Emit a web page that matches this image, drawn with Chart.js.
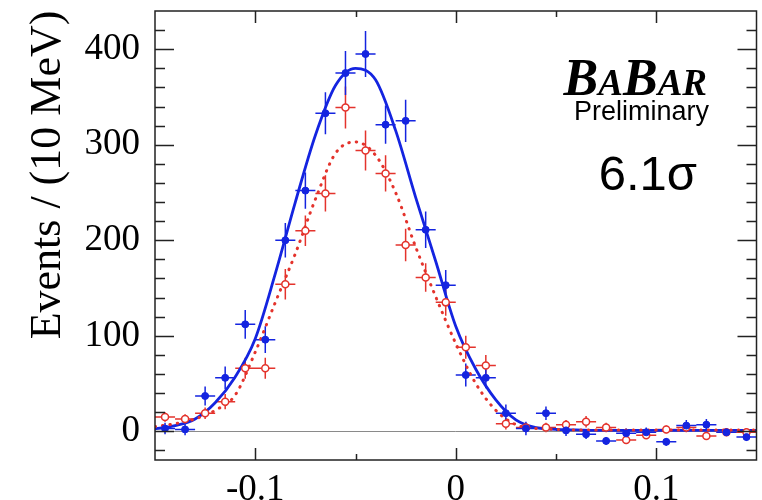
<!DOCTYPE html>
<html>
<head>
<meta charset="utf-8">
<script src="https://cdn.jsdelivr.net/npm/chart.js@4/dist/chart.umd.min.js"></script>
<style>
  html, body { margin: 0; padding: 0; background: #fff; }
  #chart { display: block; }
</style>
</head>
<body>
<canvas id="chart" width="762" height="500"></canvas>
<script>
// bin centres (10 MeV bins)
var binCenters = [-0.145, -0.135, -0.125, -0.115, -0.105, -0.095, -0.085, -0.075, -0.065, -0.055,
                  -0.045, -0.035, -0.025, -0.015, -0.005, 0.005, 0.015, 0.025, 0.035, 0.045,
                  0.055, 0.065, 0.075, 0.085, 0.095, 0.105, 0.115, 0.125, 0.135, 0.145];
var binHalfWidth = 0.005;

// blue (filled) points
var blueCounts = [3, 2, 37, 56, 112, 96, 200, 252, 333, 375,
                  395, 321, 325, 211, 153, 59, 56, 19, 3, 19,
                  1, -3, -10, -2, -1, -11, 6, 7, -1, -6];
var blueErrors = [6, 6, 10, 12, 15, 14, 18, 19, 22, 23,
                  24, 20, 22, 19, 16, 12, 11, 9, 7, 7,
                  6, 5, 4, 5, 5, 4, 6, 6, 4, 4];

// red (open) points
var redCounts = [15, 13, 19, 31, 66, 66, 154, 210, 249, 339,
                 294, 270, 195, 161, 135, 88, 69, 8, 4, 4,
                 7, 10, 4, -9, -4, 2, 4, -5, -1, -1];
var redErrors = [5, 5, 6, 8, 11, 11, 16, 16, 19, 22,
                 21, 19, 17, 15, 14, 12, 11, 6, 5, 5,
                 5, 6, 5, 4, 4, 4, 5, 4, 4, 4];

// fit curves
var curveX = [-0.15, -0.14, -0.13, -0.12, -0.11, -0.10, -0.09, -0.08, -0.07, -0.06,
              -0.05, -0.04, -0.03, -0.02, -0.01, 0.00, 0.01, 0.02, 0.03, 0.04,
              0.05, 0.06, 0.07, 0.08, 0.09, 0.10, 0.11, 0.12, 0.13, 0.14, 0.15];
var blueFit = [2.5, 6, 13, 30, 57, 97, 165, 240, 310, 362,
               380, 368, 315, 245, 178, 110, 65, 33, 12, 4,
               2, 1.5, 1, 1, 1, 1, 1, 1, 1, 1, 1];
var redFit = [5, 8, 13, 22, 38, 83, 135, 186, 243, 291,
              303, 289, 250, 193, 141, 92, 50, 22, 7, 3,
              2, 1.5, 1.5, 1.5, 1.5, 1.5, 1.5, 1.5, 1.5, 1.5, 1.5];

// axes
var xTickValues = [-0.1, 0, 0.1];
var xTickLabels = ['-0.1', '0', '0.1'];
var xMinorTicks = [-0.05, 0.05];
var yTickValues = [0, 100, 200, 300, 400];
var yMinorTicks = [-20, 20, 40, 60, 80, 120, 140, 160, 180, 220, 240, 260, 280, 320, 340, 360, 380, 420];

var BLUE = '#1424e0';
var RED = '#e4332c';

function pairs(xs, ys) {
    return xs.map(function(x, i) { return { x: x, y: ys[i] }; });
}

var errorBars = {
    id: 'errorBars',
    beforeDatasetsDraw: function(chart) {
        var ctx = chart.ctx;
        var xs = chart.scales.x, ys = chart.scales.y;
        [[redCounts, redErrors, RED], [blueCounts, blueErrors, BLUE]].forEach(function(set) {
            ctx.save();
            ctx.strokeStyle = set[2];
            ctx.lineWidth = 1.5;
            ctx.beginPath();
            binCenters.forEach(function(c, i) {
                var px = xs.getPixelForValue(c);
                var py = ys.getPixelForValue(set[0][i]);
                ctx.moveTo(xs.getPixelForValue(c - binHalfWidth), py);
                ctx.lineTo(xs.getPixelForValue(c + binHalfWidth), py);
                ctx.moveTo(px, ys.getPixelForValue(set[0][i] - set[1][i]));
                ctx.lineTo(px, ys.getPixelForValue(set[0][i] + set[1][i]));
            });
            ctx.stroke();
            ctx.restore();
        });
    }
};

var frame = {
    id: 'frame',
    beforeDatasetsDraw: function(chart) {
        var ctx = chart.ctx, a = chart.chartArea;
        var y0 = chart.scales.y.getPixelForValue(0);
        ctx.save();
        ctx.strokeStyle = '#8a8a8a';
        ctx.lineWidth = 1;
        ctx.beginPath();
        ctx.moveTo(a.left, Math.round(y0) + 0.5);
        ctx.lineTo(a.right, Math.round(y0) + 0.5);
        ctx.stroke();
        ctx.restore();
    },
    afterDraw: function(chart) {
        var ctx = chart.ctx, a = chart.chartArea;
        var xs = chart.scales.x, ys = chart.scales.y;
        ctx.save();
        ctx.strokeStyle = '#222';
        ctx.lineWidth = 1.5;
        ctx.strokeRect(a.left, a.top, a.right - a.left, a.bottom - a.top);
        ctx.beginPath();
        function yTick(v, len) {
            var py = Math.round(ys.getPixelForValue(v)) + 0.5;
            ctx.moveTo(a.left, py); ctx.lineTo(a.left + len, py);
            ctx.moveTo(a.right, py); ctx.lineTo(a.right - len, py);
        }
        function xTick(v, len) {
            var px = Math.round(xs.getPixelForValue(v)) + 0.5;
            ctx.moveTo(px, a.bottom); ctx.lineTo(px, a.bottom - len);
            ctx.moveTo(px, a.top); ctx.lineTo(px, a.top + len);
        }
        yTickValues.forEach(function(v) { yTick(v, 19); });
        yMinorTicks.forEach(function(v) { yTick(v, 10); });
        xTickValues.forEach(function(v) { xTick(v, 12); });
        xMinorTicks.forEach(function(v) { xTick(v, 6); });
        ctx.stroke();

        // y title
        ctx.fillStyle = '#000';
        ctx.save();
        ctx.translate(60, 175);
        ctx.rotate(-Math.PI / 2);
        ctx.font = '44px "Liberation Serif"';
        ctx.textAlign = 'center';
        ctx.textBaseline = 'alphabetic';
        ctx.fillText('Events / (10 MeV)', 0, 0);
        ctx.restore();

        // BaBar logo
        var parts = [['B', 52], ['A', 37], ['B', 52], ['AR', 37]];
        var total = 0;
        parts.forEach(function(p) {
            ctx.font = 'bold italic ' + p[1] + 'px "Liberation Serif"';
            total += ctx.measureText(p[0]).width;
        });
        var lx = 707 - total;
        ctx.textAlign = 'left';
        parts.forEach(function(p) {
            ctx.font = 'bold italic ' + p[1] + 'px "Liberation Serif"';
            ctx.fillText(p[0], lx, 95);
            lx += ctx.measureText(p[0]).width;
        });

        ctx.textAlign = 'right';
        ctx.font = '27px "Liberation Sans"';
        ctx.fillText('Preliminary', 709, 120);
        ctx.font = '49px "Liberation Sans"';
        ctx.fillText('6.1\u03c3', 697, 190);
        ctx.restore();
    }
};

new Chart(document.getElementById('chart'), {
    type: 'scatter',
    data: {
        datasets: [{
            label: 'fit',
            data: pairs(curveX, blueFit),
            showLine: true,
            borderColor: BLUE,
            borderWidth: 2.8,
            pointRadius: 0,
            cubicInterpolationMode: 'monotone',
            order: 3
        }, {
            label: 'fit (red)',
            data: pairs(curveX, redFit),
            showLine: true,
            borderColor: RED,
            borderWidth: 3,
            borderDash: [0.5, 7],
            borderCapStyle: 'round',
            pointRadius: 0,
            cubicInterpolationMode: 'monotone',
            order: 2
        }, {
            label: 'red',
            data: pairs(binCenters, redCounts),
            pointRadius: 3.5,
            pointBackgroundColor: '#fff',
            pointBorderColor: RED,
            pointBorderWidth: 1.5,
            order: 1
        }, {
            label: 'blue',
            data: pairs(binCenters, blueCounts),
            pointRadius: 3.5,
            pointBackgroundColor: BLUE,
            pointBorderColor: BLUE,
            pointBorderWidth: 1,
            order: 0
        }]
    },
    options: {
        responsive: false,
        animation: false,
        devicePixelRatio: 1,
        layout: { padding: { left: 0, right: 5, top: 11, bottom: 0 } },
        plugins: { legend: { display: false }, tooltip: { enabled: false } },
        scales: {
            x: {
                type: 'linear',
                min: -0.15,
                max: 0.15,
                grid: { display: false },
                border: { display: false },
                afterBuildTicks: function(scale) {
                    scale.ticks = xTickValues.map(function(v) { return { value: v }; });
                },
                afterFit: function(scale) {
                    scale.height = 40;
                    scale.paddingLeft = 0;
                    scale.paddingRight = 0;
                },
                ticks: {
                    autoSkip: false,
                    maxRotation: 0,
                    padding: 0,
                    color: '#000',
                    font: { family: '"Liberation Serif"', size: 37 },
                    callback: function(v, i) { return xTickLabels[i]; }
                }
            },
            y: {
                min: -30,
                max: 440,
                grid: { display: false },
                border: { display: false },
                afterBuildTicks: function(scale) {
                    scale.ticks = yTickValues.map(function(v) { return { value: v }; });
                },
                afterFit: function(scale) {
                    scale.width = 155;
                    scale.paddingTop = 0;
                    scale.paddingBottom = 0;
                },
                ticks: {
                    padding: 7,
                    color: '#000',
                    font: { family: '"Liberation Serif"', size: 37 },
                    callback: function(v) { return String(v); }
                }
            }
        }
    },
    plugins: [errorBars, frame]
});
</script>
</body>
</html>
